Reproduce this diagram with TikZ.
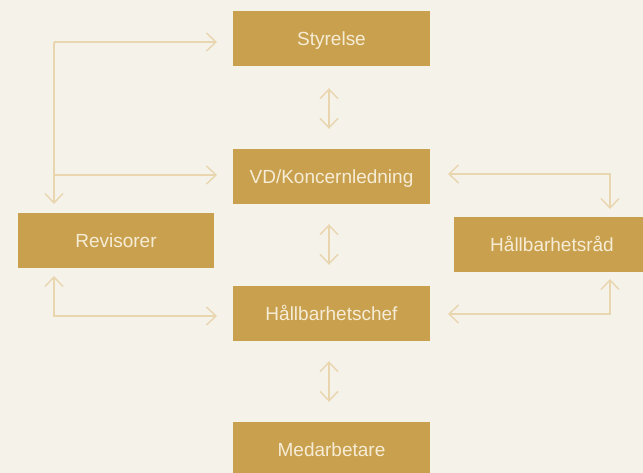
\documentclass[tikz,border=0pt]{standalone}
\usepackage{fontspec}
\setmainfont{Liberation Sans}
\usetikzlibrary{arrows.meta}
\definecolor{bg}{HTML}{F5F2EA}
\definecolor{gold}{HTML}{C9A14E}
\definecolor{linec}{HTML}{E9D5AE}
\definecolor{txt}{HTML}{F6ECD6}
\begin{document}
\begin{tikzpicture}[x=1pt,y=-1pt,
  box/.style={fill=gold,draw=none,text=txt,minimum width=197pt,minimum height=55pt,inner sep=0pt,text height=18pt,text depth=4pt,font=\fontsize{19}{21}\selectfont},
  conn/.style={draw=linec,line width=1.4pt,-{Straight Barb[length=9.5pt,width=18pt,line width=1.4pt]}},
  dconn/.style={draw=linec,line width=1.4pt,{Straight Barb[length=9.5pt,width=18pt,line width=1.4pt]}-{Straight Barb[length=9.5pt,width=18pt,line width=1.4pt]}}]
\fill[bg] (0,0) rectangle (643,473);
\useasboundingbox (0,0) rectangle (643,473);
\begin{scope}
\clip (0,0) rectangle (643,473);
\node[box] (sty) at (331.5,38.5) {Styrelse};
\node[box] (vd) at (331.5,176.5) {VD/Koncernledning};
\node[box] (chef) at (331.5,313.5) {Hållbarhetschef};
\node[box] (med) at (331.5,449.5) {Medarbetare};
\node[box,minimum width=196pt] (rev) at (116,240.5) {Revisorer};
\node[box,minimum width=196pt] (hr) at (552,244.5) {Hållbarhetsråd};
\end{scope}
% left connectors
\coordinate (lt) at (54,42);
\coordinate (lsty) at (217,42);
\coordinate (lvd) at (217,175);
\coordinate (lrevtop) at (54,204);
\coordinate (lrevbot) at (54,276);
\coordinate (lchef) at (217,316);
\draw[conn] (lt) -- (lsty);
\draw[conn] (lt) -- (lrevtop);
\draw[conn] (lt |- lvd) -- (lvd);
\draw[dconn] (lrevbot) |- (lchef);
% right connectors
\coordinate (rvd) at (448,174);
\coordinate (rhrtop) at (610,209);
\coordinate (rhrbot) at (610,279);
\coordinate (rchef) at (448,314);
\draw[dconn] (rvd) -| (rhrtop);
\draw[dconn] (rhrbot) |- (rchef);
% vertical double arrows
\draw[dconn] ([xshift=-2.5pt,yshift=-22pt]sty.south) -- ([xshift=-2.5pt,yshift=20pt]vd.north);
\draw[dconn] ([xshift=-2.5pt,yshift=-20pt]vd.south) -- ([xshift=-2.5pt,yshift=21pt]chef.north);
\draw[dconn] ([xshift=-2.5pt,yshift=-20pt]chef.south) -- ([xshift=-2.5pt,yshift=20pt]med.north);
\end{tikzpicture}
\end{document}
